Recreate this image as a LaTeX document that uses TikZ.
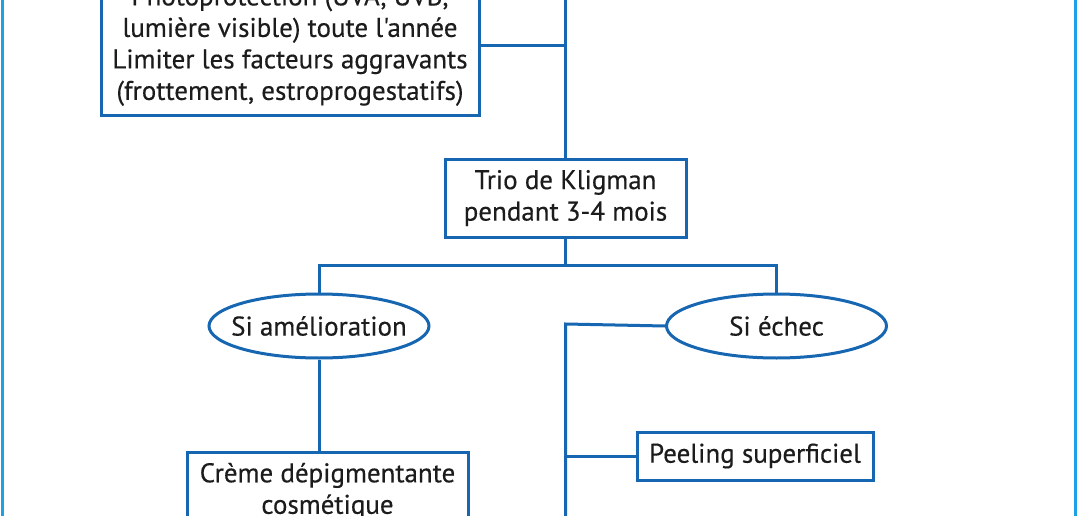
\documentclass[tikz,border=0pt]{standalone}
\usepackage{fontspec}
\setmainfont{PT Sans}
\newfontfamily\dinfont{PT Sans}[FakeBold=0.35]
\usetikzlibrary{shapes.geometric}
\definecolor{boxblue}{RGB}{22,102,178}
\definecolor{frameblue}{RGB}{30,160,230}
\definecolor{txt}{RGB}{28,28,28}
\tikzset{
  every node/.style={font=\dinfont\fontsize{27}{31.5}\selectfont, text=txt, align=center},
  rbox/.style={draw=boxblue, line width=3pt, rectangle, inner sep=0pt, fill=white},
  ebox/.style={draw=boxblue, line width=3pt, ellipse, inner sep=0pt, minimum width=220pt, minimum height=64pt},
  conn/.style={draw=boxblue, line width=3pt},
  framel/.style={draw=frameblue, line width=3pt}
}
\begin{document}
\begin{tikzpicture}[x=1pt,y=-1pt]
\useasboundingbox (0,0) rectangle (1078,516);
\clip (0,0) rectangle (1078,516);
\fill[white] (0,0) rectangle (1078,516);
\draw[framel] (2.5,-10) -- (2.5,530);
\draw[framel] (1075.5,-10) -- (1075.5,530);
% nodes
\node[rbox, minimum width=378pt, minimum height=140pt] (top) at (290,46)
  {Photoprotection (UVA, UVB,\\lumière visible) toute l'année\\Limiter les facteurs aggravants\\(frottement, estroprogestatifs)};
\node[rbox, minimum width=241pt, minimum height=78pt] (trio) at (565.5,198)
  {Trio de Kligman\\pendant 3-4 mois};
\node[ebox] (ame) at (319,326) {\makebox[0pt]{Si amélioration}};
\node[ebox] (ech) at (776.5,326) {\makebox[0pt]{Si échec}};
\node[rbox, minimum width=281pt, minimum height=78pt] (creme) at (327.5,491)
  {Crème dépigmentante\\cosmétique};
\node[rbox, minimum width=236pt, minimum height=48pt] (peel) at (755,456)
  {Peeling superficiel};
\coordinate (topend) at (565.5,-30);
\coordinate (split) at (565.5,265);
\coordinate (failx) at (565.5,324);
\coordinate (botend) at (565.5,540);
% connectors
\draw[conn] (topend) -- (trio.north);
\draw[conn] (top.east) -- (top.east -| topend);
\draw[conn] (trio.south) -- (split);
\draw[conn] (ame.north) |- (split) -| (ech.north);
\draw[conn] (ame.south) -- (ame.south |- creme.north);
\draw[conn] (ech.west) -- (failx) -- (botend);
\draw[conn] (peel.west -| failx) -- (peel.west);
\end{tikzpicture}
\end{document}
